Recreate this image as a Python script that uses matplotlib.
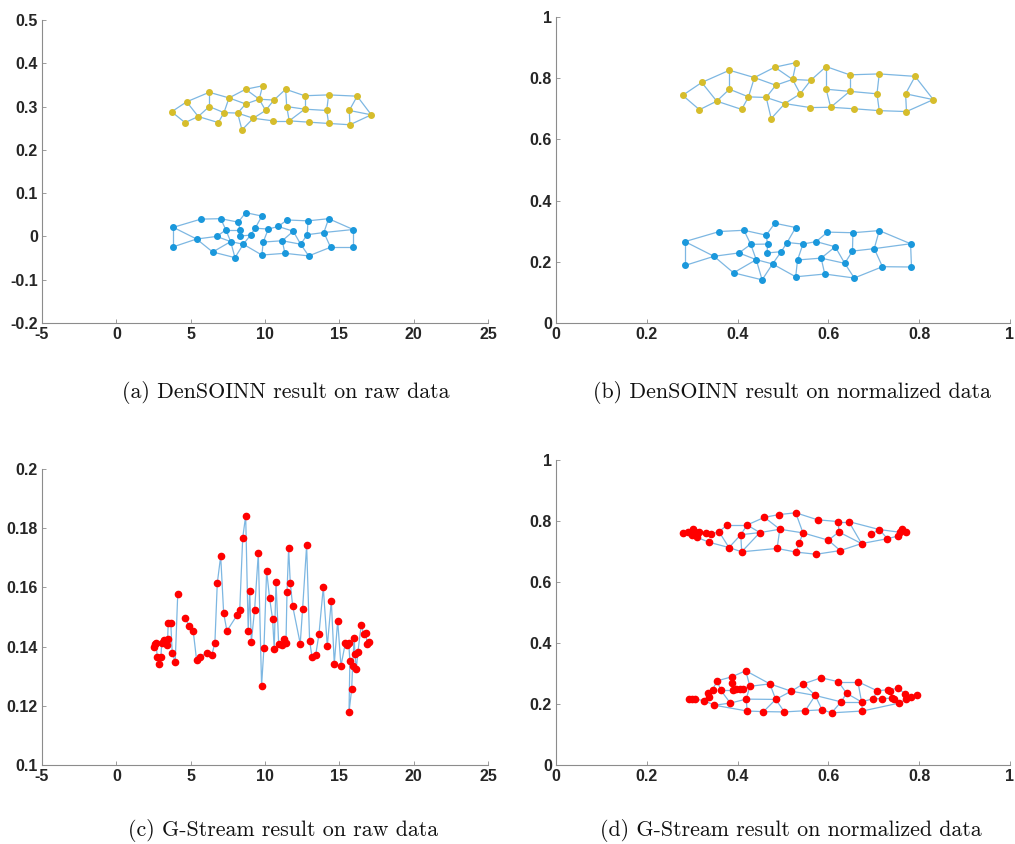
import numpy as np
import matplotlib
matplotlib.use('Agg')
import matplotlib.pyplot as plt
from matplotlib.ticker import FormatStrFormatter

plt.rcParams['axes.unicode_minus'] = False

# ---- (a) DenSOINN raw data: yellow cluster
ya_x = [3.72, 4.62, 4.73, 5.51, 6.25, 6.25, 6.86, 7.24, 7.58, 8.16, 8.45, 8.70, 8.70, 9.21, 9.61, 9.84,
        10.04, 10.55, 10.60, 11.39, 11.46, 11.63, 12.67, 12.67, 12.94, 14.28, 14.15, 14.28, 15.71, 15.67, 16.20, 17.15]
ya_y = [0.288, 0.263, 0.311, 0.277, 0.333, 0.300, 0.263, 0.286, 0.320, 0.285, 0.246, 0.340, 0.306, 0.273, 0.317, 0.348,
        0.291, 0.267, 0.315, 0.340, 0.300, 0.267, 0.325, 0.294, 0.264, 0.327, 0.291, 0.261, 0.258, 0.291, 0.324, 0.281]
# blue cluster
ba_x = [3.83, 3.83, 5.40, 5.69, 6.48, 6.75, 7.02, 7.37, 7.69, 7.98, 8.20, 8.32, 8.32, 8.54, 8.70, 9.03, 9.34, 9.79,
        9.79, 9.88, 10.22, 10.89, 11.16, 11.34, 11.48, 11.90, 12.40, 12.84, 12.89, 12.94, 13.96, 14.28, 14.41, 15.93, 15.93]
ba_y = [0.021, -0.024, -0.006, 0.040, -0.036, 0.000, 0.041, 0.015, -0.012, -0.049, 0.033, 0.015, 0.001, -0.018, 0.055,
        0.003, 0.019, 0.047, -0.043, -0.013, 0.017, 0.023, -0.010, -0.039, 0.038, 0.012, -0.018, 0.004, 0.036, -0.045,
        0.009, 0.041, -0.025, 0.016, -0.025]

# ---- (b) DenSOINN normalized data
yb_x = [0.279, 0.316, 0.321, 0.354, 0.382, 0.382, 0.409, 0.424, 0.437, 0.463, 0.474, 0.482, 0.484, 0.504, 0.521, 0.529,
        0.538, 0.560, 0.561, 0.595, 0.595, 0.605, 0.647, 0.647, 0.657, 0.712, 0.707, 0.712, 0.772, 0.770, 0.791, 0.831]
yb_y = [0.744, 0.697, 0.786, 0.725, 0.826, 0.764, 0.698, 0.739, 0.802, 0.737, 0.668, 0.836, 0.777, 0.717, 0.796, 0.851,
        0.749, 0.704, 0.793, 0.838, 0.764, 0.705, 0.811, 0.757, 0.700, 0.814, 0.749, 0.694, 0.691, 0.749, 0.806, 0.730]
bb_x = [0.284, 0.284, 0.348, 0.360, 0.391, 0.403, 0.414, 0.429, 0.441, 0.454, 0.463, 0.466, 0.465, 0.477, 0.482, 0.496,
        0.509, 0.528, 0.528, 0.532, 0.544, 0.573, 0.584, 0.592, 0.598, 0.615, 0.636, 0.653, 0.654, 0.657, 0.701, 0.712,
        0.719, 0.781, 0.783]
bb_y = [0.266, 0.188, 0.218, 0.299, 0.164, 0.229, 0.303, 0.257, 0.207, 0.141, 0.287, 0.258, 0.229, 0.193, 0.326, 0.233,
        0.263, 0.312, 0.151, 0.206, 0.258, 0.266, 0.212, 0.160, 0.297, 0.249, 0.195, 0.235, 0.295, 0.147, 0.243, 0.302,
        0.184, 0.259, 0.183]

# node links (1-based), same topology on raw and normalized data
yellow_edges = [(1, 2), (1, 3), (2, 4), (3, 4), (3, 5), (4, 6), (5, 6), (4, 7), (6, 8), (7, 8), (5, 9), (8, 9), (8, 10),
                (9, 12), (9, 13), (12, 16), (12, 15), (15, 16), (13, 15), (10, 13), (10, 11), (11, 14), (10, 14),
                (14, 17), (15, 17), (15, 19), (17, 19), (19, 20), (20, 21), (20, 23), (21, 24), (21, 22), (23, 24),
                (22, 24), (23, 26), (24, 27), (26, 27), (27, 28), (22, 25), (25, 28), (28, 29), (29, 30), (30, 31),
                (31, 32), (30, 32), (29, 32), (14, 18), (18, 22), (26, 31)]
blue_edges = [(1, 2), (1, 4), (1, 3), (2, 3), (3, 6), (3, 5), (4, 7), (6, 8), (7, 8), (7, 11), (8, 12), (8, 9), (5, 9),
              (5, 10), (9, 10), (9, 14), (12, 13), (13, 16), (11, 15), (11, 12), (15, 18), (17, 18), (16, 17),
              (14, 16), (14, 19), (10, 14), (19, 24), (20, 21), (20, 23), (21, 22), (22, 25), (22, 26), (23, 26),
              (23, 24), (25, 29), (29, 32), (28, 29), (26, 27), (27, 28), (28, 31), (31, 32), (31, 33), (31, 34),
              (32, 34), (34, 35), (33, 35), (27, 30), (24, 30), (30, 33), (23, 27), (19, 20), (6, 9), (17, 21)]

# ---- (c) G-Stream raw data (chain of nodes, break after first 15)
rc_x = [2.53, 2.60, 2.67, 2.75, 2.89, 3.00, 3.05, 3.22, 3.39, 3.45, 3.49, 3.66, 3.76, 3.96, 4.13,
        4.62, 4.89, 5.17, 5.40, 5.65, 6.08, 6.43, 6.63, 6.79, 7.02, 7.22, 7.44, 8.13, 8.30, 8.50, 8.70,
        8.87, 8.97, 9.08, 9.30, 9.55, 9.77, 9.93, 10.11, 10.31, 10.51, 10.62, 10.74, 10.92, 11.16, 11.27,
        11.41, 11.48, 11.59, 11.70, 11.86, 12.37, 12.53, 12.80, 13.00, 13.16, 13.41, 13.63, 13.92, 14.19,
        14.46, 14.66, 14.89, 15.11, 15.40, 15.53, 15.63, 15.71, 15.65, 15.83, 15.89, 16.00, 16.05, 16.14,
        16.25, 16.47, 16.65, 16.79, 16.86, 17.01]
rc_y = [0.1400, 0.1409, 0.1413, 0.1366, 0.1340, 0.1366, 0.1411, 0.1422, 0.1405, 0.1425, 0.1479, 0.1481, 0.1379,
        0.1348, 0.1577,
        0.1496, 0.1471, 0.1453, 0.1354, 0.1366, 0.1379, 0.1373, 0.1413, 0.1614, 0.1706, 0.1512, 0.1453, 0.1507,
        0.1523, 0.1767, 0.1842, 0.1453, 0.1589, 0.1416, 0.1524, 0.1715, 0.1268, 0.1396, 0.1656, 0.1563, 0.1493,
        0.1393, 0.1619, 0.1408, 0.1405, 0.1427, 0.1413, 0.1583, 0.1732, 0.1616, 0.1537, 0.1410, 0.1528, 0.1742,
        0.1420, 0.1366, 0.1372, 0.1442, 0.1600, 0.1401, 0.1555, 0.1342, 0.1487, 0.1335, 0.1411, 0.1405, 0.1413,
        0.1352, 0.1178, 0.1256, 0.1334, 0.1429, 0.1375, 0.1324, 0.1382, 0.1472, 0.1442, 0.1445, 0.1410, 0.1415]
rc_breaks = [15]

# ---- (d) G-Stream normalized data
rt_x = [0.280, 0.291, 0.297, 0.302, 0.306, 0.299, 0.311, 0.316, 0.330, 0.341, 0.338, 0.359, 0.377, 0.381, 0.407,
        0.409, 0.421, 0.449, 0.459, 0.487, 0.491, 0.493, 0.528, 0.529, 0.536, 0.544, 0.576, 0.573, 0.600, 0.622,
        0.623, 0.626, 0.645, 0.673, 0.694, 0.712, 0.730, 0.754, 0.758, 0.763, 0.771]
rt_y = [0.762, 0.765, 0.760, 0.773, 0.763, 0.754, 0.746, 0.765, 0.762, 0.757, 0.730, 0.765, 0.787, 0.713, 0.755,
        0.699, 0.787, 0.762, 0.812, 0.710, 0.821, 0.773, 0.827, 0.698, 0.728, 0.761, 0.804, 0.691, 0.737, 0.798,
        0.764, 0.703, 0.798, 0.726, 0.756, 0.772, 0.742, 0.751, 0.763, 0.773, 0.765]
rt_edges = [(1, 2), (2, 3), (3, 4), (4, 5), (5, 6), (6, 7), (5, 8), (8, 9), (7, 11), (9, 10), (11, 14), (10, 12),
            (12, 13), (13, 17), (12, 14), (14, 15), (15, 17), (14, 16), (15, 16), (15, 18), (17, 18), (17, 19),
            (19, 21), (21, 23), (19, 22), (18, 22), (16, 18), (16, 20), (20, 22), (22, 26), (23, 26), (23, 27),
            (27, 30), (30, 33), (26, 29), (29, 31), (30, 31), (31, 34), (33, 34), (33, 36), (34, 37), (35, 36),
            (36, 37), (37, 38), (38, 39), (39, 40), (40, 41), (36, 39), (20, 24), (24, 28), (28, 32), (29, 32),
            (32, 34), (25, 26), (24, 25)]
rb_x = [0.294, 0.299, 0.306, 0.326, 0.334, 0.338, 0.345, 0.349, 0.355, 0.363, 0.384, 0.387, 0.388, 0.389, 0.396,
        0.405, 0.411, 0.418, 0.419, 0.421, 0.427, 0.457, 0.471, 0.484, 0.503, 0.518, 0.545, 0.549, 0.571, 0.584,
        0.586, 0.607, 0.622, 0.628, 0.640, 0.665, 0.673, 0.675, 0.698, 0.708, 0.719, 0.731, 0.736, 0.741, 0.745,
        0.754, 0.756, 0.769, 0.772, 0.783, 0.795]
rb_y = [0.218, 0.218, 0.216, 0.211, 0.236, 0.222, 0.247, 0.196, 0.276, 0.245, 0.203, 0.289, 0.269, 0.245, 0.249,
        0.250, 0.250, 0.309, 0.216, 0.177, 0.258, 0.175, 0.266, 0.215, 0.174, 0.242, 0.266, 0.178, 0.228, 0.286,
        0.181, 0.171, 0.273, 0.207, 0.235, 0.273, 0.207, 0.177, 0.217, 0.243, 0.218, 0.247, 0.241, 0.219, 0.217,
        0.251, 0.203, 0.233, 0.216, 0.222, 0.228]
rb_edges = [(1, 2), (2, 3), (3, 4), (4, 8), (4, 6), (5, 6), (5, 7), (7, 9), (9, 12), (12, 18), (9, 10), (10, 14),
            (12, 13), (10, 11), (8, 11), (11, 19), (14, 15), (15, 16), (16, 17), (17, 21), (18, 21), (18, 23),
            (21, 23), (19, 20), (8, 20), (20, 22), (19, 21), (19, 24), (23, 24), (23, 26), (22, 24), (24, 25),
            (24, 26), (26, 27), (26, 29), (27, 30), (27, 29), (28, 29), (29, 31), (29, 34), (22, 25), (25, 28),
            (28, 31), (31, 32), (30, 33), (33, 35), (33, 36), (34, 35), (32, 34), (35, 37), (36, 37), (34, 37),
            (37, 38), (32, 38), (37, 39), (39, 40), (36, 40), (40, 42), (42, 43), (43, 44), (41, 44), (39, 41),
            (42, 46), (46, 48), (48, 49), (49, 50), (50, 51), (47, 49), (45, 47), (38, 47)]

captions = ['(a) DenSOINN result on raw data', '(b) DenSOINN result on normalized data',
            '(c) G-Stream result on raw data', '(d) G-Stream result on normalized data']

edge_col = '#7db7e2'
yellow = '#d6bd2c'
blue = '#1a98dc'
red = '#ff0000'


def draw_graph(ax, xs, ys, edges, color, ms=4.0):
    for i, j in edges:
        ax.plot([xs[i - 1], xs[j - 1]], [ys[i - 1], ys[j - 1]], color=edge_col, lw=0.9, zorder=1)
    ax.plot(xs, ys, 'o', ls='none', color=color, ms=ms, mec=color, zorder=2)


def style(ax, xlim, ylim, xticks, yticks):
    ax.set_xlim(xlim)
    ax.set_ylim(ylim)
    ax.set_xticks(xticks)
    ax.set_yticks(yticks)
    ax.xaxis.set_major_formatter(FormatStrFormatter('%g'))
    ax.yaxis.set_major_formatter(FormatStrFormatter('%g'))
    for s in ['top', 'right']:
        ax.spines[s].set_visible(False)
    for s in ['left', 'bottom']:
        ax.spines[s].set_color('#8c8c8c')
        ax.spines[s].set_linewidth(0.8)
    ax.tick_params(direction='in', length=3, width=0.6, color='#8c8c8c', pad=3,
                   labelsize=11.5, labelcolor='#262626')
    for lab in ax.get_xticklabels() + ax.get_yticklabels():
        lab.set_fontweight('bold')
        lab.set_family('Liberation Sans')


fig = plt.figure(figsize=(10.15, 8.44), dpi=100)
W, H = 1015.0, 844.0
boxes = [(42, 20, 488, 323), (556, 17, 1010, 323), (42, 469, 488, 765), (556, 460, 1010, 765)]
axs = [fig.add_axes([l / W, 1 - b / H, (r - l) / W, (b - t) / H]) for (l, t, r, b) in boxes]

ax = axs[0]
draw_graph(ax, ya_x, ya_y, yellow_edges, yellow)
draw_graph(ax, ba_x, ba_y, blue_edges, blue)
style(ax, (-5, 25), (-0.2, 0.5), np.arange(-5, 26, 5), np.round(np.arange(-0.2, 0.51, 0.1), 1))

ax = axs[1]
draw_graph(ax, yb_x, yb_y, yellow_edges, yellow)
draw_graph(ax, bb_x, bb_y, blue_edges, blue)
style(ax, (0, 1), (0, 1), np.round(np.arange(0, 1.01, 0.2), 1), np.round(np.arange(0, 1.01, 0.2), 1))

ax = axs[2]
starts = [0] + rc_breaks
ends = rc_breaks + [len(rc_x)]
for s, e in zip(starts, ends):
    ax.plot(rc_x[s:e], rc_y[s:e], color=edge_col, lw=0.9, zorder=1)
ax.plot(rc_x, rc_y, 'o', ls='none', color=red, ms=4.5, zorder=2)
style(ax, (-5, 25), (0.1, 0.2), np.arange(-5, 26, 5), np.round(np.arange(0.1, 0.201, 0.02), 2))

ax = axs[3]
draw_graph(ax, rt_x, rt_y, rt_edges, red, ms=4.5)
draw_graph(ax, rb_x, rb_y, rb_edges, red, ms=4.5)
style(ax, (0, 1), (0, 1), np.round(np.arange(0, 1.01, 0.2), 1), np.round(np.arange(0, 1.01, 0.2), 1))

cap_pos = [(286, 392), (792, 392), (283, 830), (791, 830)]
for (cx, cy), txt in zip(cap_pos, captions):
    fig.text(cx / W, 1 - cy / H, txt, ha='center', va='center', fontsize=15.8, family='cmr10', color='#111111')

fig.savefig('out.png', dpi=100)
